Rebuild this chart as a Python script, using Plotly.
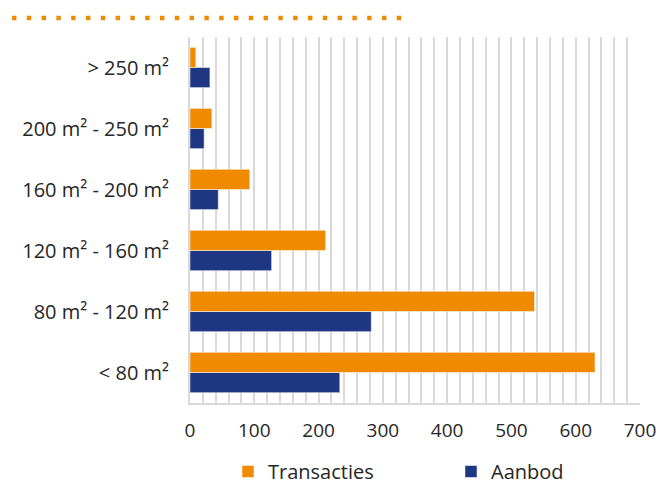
import plotly.graph_objects as go

categories = ["< 80 m²", "80 m² - 120 m²", "120 m² - 160 m²", "160 m² - 200 m²", "200 m² - 250 m²", "> 250 m²"]
transacties = [630, 536, 211, 93, 34, 9]
aanbod = [233, 282, 127, 44, 22, 31]

ORANGE = "#F08A00"
NAVY = "#1F3682"
GRID = "#D9D9D9"
FONT = "Open Sans"

fig = go.Figure()
fig.add_trace(go.Bar(y=categories, x=aanbod, name="Aanbod", orientation="h",
                     marker=dict(color=NAVY, line=dict(color="rgba(255,255,255,0.5)", width=1)),
                     legendrank=2))
fig.add_trace(go.Bar(y=categories, x=transacties, name="Transacties", orientation="h",
                     marker=dict(color=ORANGE, line=dict(color="rgba(255,255,255,0.5)", width=1)),
                     legendrank=1))

W, H = 661, 484
L, R, T, B = 190, 21, 37, 81
pw, ph = W - L - R, H - T - B

def px_x(p):
    return (p - L) / pw

def px_y(p):
    return 1 - (p - T) / ph

fig.add_shape(type="line", xref="paper", yref="paper",
              x0=px_x(12), x1=px_x(403), y0=px_y(18), y1=px_y(18),
              line=dict(color=ORANGE, width=4.5, dash="4.4px,10.4px"))

fig.update_layout(
    width=W, height=H,
    margin=dict(l=L, r=R, t=T, b=B, autoexpand=False),
    paper_bgcolor="white", plot_bgcolor="white",
    barmode="group", bargap=0.34, bargroupgap=0,
    font=dict(family=FONT, size=18, color="#262626"),
    showlegend=True,
    legend=dict(orientation="h", x=px_x(228), xanchor="left", y=px_y(452), yanchor="top",
                font=dict(size=20), entrywidth=178, itemwidth=30, tracegroupgap=0),
    xaxis=dict(range=[0, 700], dtick=100, tick0=0, showgrid=True, gridcolor=GRID, gridwidth=2,
               minor=dict(dtick=20, showgrid=True, gridcolor=GRID, gridwidth=2),
               showline=True, linecolor=GRID, linewidth=2, zeroline=False, automargin=False,
               ticks="", ticklabelstandoff=9, tickfont=dict(size=19), fixedrange=True),
    yaxis=dict(showgrid=False, showline=True, linecolor=GRID, linewidth=2, automargin=False,
               ticks="", ticklabelstandoff=15, tickfont=dict(size=20), fixedrange=True),
)

fig.write_html("out.html", config={"displayModeBar": False},
               post_script="document.body.style.margin='0px';document.body.style.overflow='hidden';")
